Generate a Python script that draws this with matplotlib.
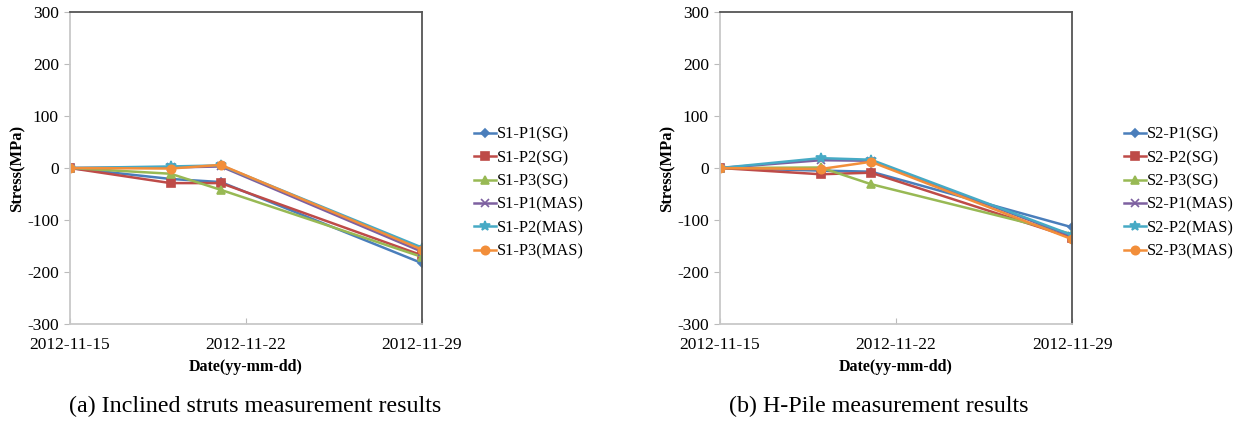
import matplotlib
matplotlib.use('Agg')
import matplotlib.pyplot as plt
import matplotlib.dates as mdates
import numpy as np
from datetime import datetime

plt.rcParams['font.family'] = ['Liberation Serif', 'DejaVu Serif']
plt.rcParams['axes.unicode_minus'] = False

dates = ['2012-11-15', '2012-11-19', '2012-11-21', '2012-11-29']
tick_dates = ['2012-11-15', '2012-11-22', '2012-11-29']

names_a = ['S1-P1(SG)', 'S1-P2(SG)', 'S1-P3(SG)', 'S1-P1(MAS)', 'S1-P2(MAS)', 'S1-P3(MAS)']
s1_p1_sg = [0, -21, -27, -183]
s1_p2_sg = [0, -29, -29, -168]
s1_p3_sg = [0, -11, -42, -171]
s1_p1_mas = [0, 1, 3, -161]
s1_p2_mas = [0, 3, 5, -153]
s1_p3_mas = [0, -1, 6, -157]

names_b = ['S2-P1(SG)', 'S2-P2(SG)', 'S2-P3(SG)', 'S2-P1(MAS)', 'S2-P2(MAS)', 'S2-P3(MAS)']
s2_p1_sg = [0, -5, -7, -114]
s2_p2_sg = [0, -12, -9, -134]
s2_p3_sg = [0, 1, -31, -127]
s2_p1_mas = [0, 15, 14, -131]
s2_p2_mas = [0, 19, 16, -129]
s2_p3_mas = [0, -2, 12, -137]

colors = ['#4A7EBB', '#BE4B48', '#98B954', '#7D60A0', '#46AAC5', '#F28E3A']
markers = ['D', 's', '^', 'x', '*', 'o']
msizes = [4, 6, 6, 6, 7, 6]

x = [datetime.strptime(d, '%Y-%m-%d') for d in dates]
xt = [datetime.strptime(d, '%Y-%m-%d') for d in tick_dates]

fig = plt.figure(figsize=(12.34, 4.22), dpi=100)

def panel(left, series, names, caption, cap_x):
    ax = fig.add_axes([left, 0.2322, 0.2853, 0.7393])
    for s, n, c, m, ms in zip(series, names, colors, markers, msizes):
        ax.plot(x, s, color=c, marker=m, ms=ms, lw=1.8, label=n,
                markeredgecolor=c, markeredgewidth=1.2)
    ax.set_xlim(xt[0], xt[-1])
    ax.set_ylim(-300, 300)
    ax.set_yticks(np.arange(-300, 301, 100))
    ax.set_xticks(xt)
    ax.xaxis.set_major_formatter(mdates.DateFormatter('%Y-%m-%d'))
    ax.tick_params(axis='y', direction='out', length=4, color='#bbbbbb',
                   labelsize=12.5, pad=4)
    ax.tick_params(axis='x', direction='in', length=4, color='#bbbbbb',
                   labelsize=12.5, pad=9)
    ax.spines['left'].set_color('#c8c8c8')
    ax.spines['bottom'].set_color('#c8c8c8')
    ax.spines['top'].set_color('#555555')
    ax.spines['right'].set_color('#555555')
    for sp in ax.spines.values():
        sp.set_linewidth(1.3)
    ax.set_ylabel('Stress(MPa)', fontsize=12, fontweight='bold', labelpad=1)
    ax.set_xlabel('Date(yy-mm-dd)', fontsize=11.5, fontweight='bold', labelpad=5)
    ax.legend(loc='center left', bbox_to_anchor=(1.13, 0.42), frameon=False,
              fontsize=11.8, handlelength=1.3, handletextpad=0.1,
              labelspacing=0.45, borderaxespad=0)
    fig.text(cap_x, 0.024, caption, ha='center', va='baseline', fontsize=17.3)
    return ax

panel(0.0567, [s1_p1_sg, s1_p2_sg, s1_p3_sg, s1_p1_mas, s1_p2_mas, s1_p3_mas],
      names_a, '(a) Inclined struts measurement results', 0.2066)
panel(0.5835, [s2_p1_sg, s2_p2_sg, s2_p3_sg, s2_p1_mas, s2_p2_mas, s2_p3_mas],
      names_b, '(b) H-Pile measurement results', 0.7123)

fig.savefig('out.png', dpi=100)
